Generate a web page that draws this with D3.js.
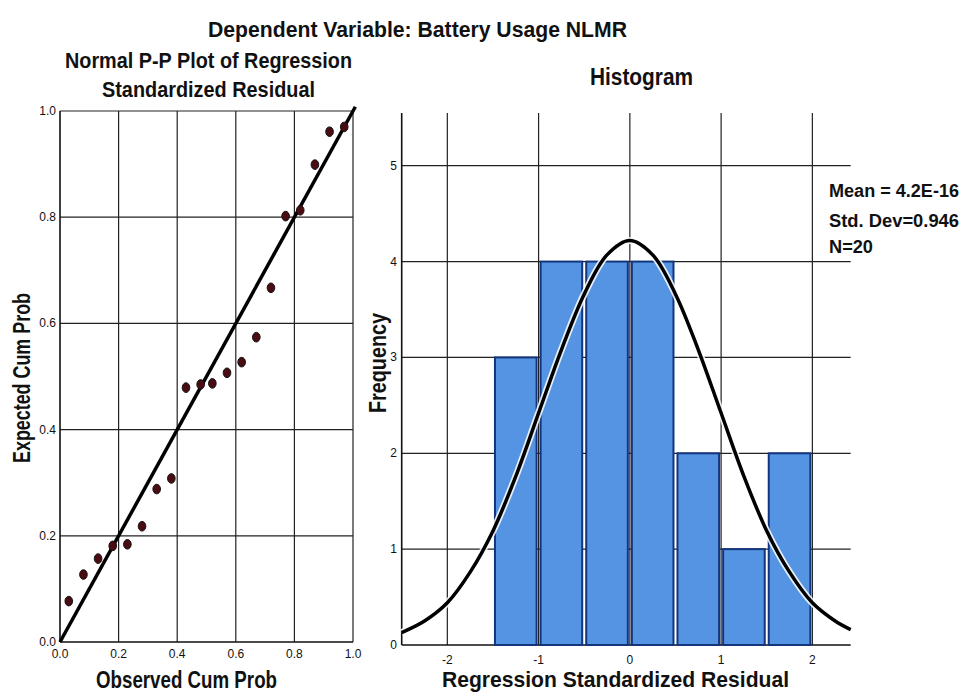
<!DOCTYPE html>
<html>
<head>
<meta charset="utf-8">
<script src="https://cdn.jsdelivr.net/npm/d3@7"></script>
<style>
  body { margin: 0; background: #fff; }
  text { font-family: "Liberation Sans", Arial, sans-serif; fill: #111; }
  .tick-lab { font-family: "Liberation Sans Narrow", "Arial Narrow", "Liberation Sans", Arial, sans-serif; }
</style>
</head>
<body>
<div id="chart"></div>
<script>
// P-P plot data
var ppObserved = [0.03, 0.08, 0.13, 0.18, 0.23, 0.28, 0.33, 0.38, 0.43, 0.48,
                  0.52, 0.57, 0.62, 0.67, 0.72, 0.77, 0.82, 0.87, 0.92, 0.97];
var ppExpected = [0.077, 0.127, 0.157, 0.181, 0.184, 0.218, 0.288, 0.308, 0.479, 0.485,
                  0.487, 0.507, 0.527, 0.574, 0.667, 0.802, 0.813, 0.899, 0.961, 0.970];
var ppTicks = [0, 0.2, 0.4, 0.6, 0.8, 1.0];

// histogram data
var binStart = [-1.5, -1.0, -0.5, 0.0, 0.5, 1.0, 1.5];
var binEnd   = [-1.0, -0.5, 0.0, 0.5, 1.0, 1.5, 2.0];
var binCount = [3, 4, 4, 4, 2, 1, 2];
var histXTicks = [-2, -1, 0, 1, 2];
var histYTicks = [0, 1, 2, 3, 4, 5];

// normal curve
var curveX = [-2.5, -2.25, -2, -1.75, -1.5, -1.25, -1, -0.75, -0.5, -0.25, 0,
              0.25, 0.5, 0.75, 1, 1.25, 1.5, 1.75, 2, 2.25, 2.42];
var curveY = [0.13, 0.25, 0.44, 0.76, 1.19, 1.76, 2.42, 3.08, 3.66, 4.07, 4.22,
              4.07, 3.66, 3.08, 2.42, 1.76, 1.19, 0.76, 0.44, 0.25, 0.16];

var legendLines = ["Mean = 4.2E-16", "Std. Dev=0.946", "N=20"];

var w = 964, h = 693;
var svg = d3.select("#chart").append("svg")
    .attr("width", w)
    .attr("height", h);

// ---------- P-P plot ----------
var px = d3.scaleLinear().domain([0, 1]).range([60, 353]);
var py = d3.scaleLinear().domain([0, 1]).range([642, 111]);

var pp = svg.append("g");

pp.selectAll("line.vgrid")
   .data(ppTicks.slice(1))
   .enter()
   .append("line")
   .attr("x1", function(d) { return px(d); })
   .attr("x2", function(d) { return px(d); })
   .attr("y1", py(1))
   .attr("y2", py(0))
   .attr("stroke", "#222")
   .attr("stroke-width", 1.2);

pp.selectAll("line.hgrid")
   .data(ppTicks.slice(1))
   .enter()
   .append("line")
   .attr("x1", px(0))
   .attr("x2", px(1))
   .attr("y1", function(d) { return py(d); })
   .attr("y2", function(d) { return py(d); })
   .attr("stroke", "#222")
   .attr("stroke-width", 1.2);

// axis lines
pp.append("line")
   .attr("x1", px(0)).attr("x2", px(0))
   .attr("y1", py(1)).attr("y2", py(0))
   .attr("stroke", "#111").attr("stroke-width", 1.6);
pp.append("line")
   .attr("x1", px(0)).attr("x2", px(1))
   .attr("y1", py(0)).attr("y2", py(0))
   .attr("stroke", "#111").attr("stroke-width", 1.6);

pp.selectAll("text.ylab")
   .data(ppTicks)
   .enter()
   .append("text")
   .attr("class", "tick-lab")
   .text(function(d) { return d.toFixed(1); })
   .attr("x", 56)
   .attr("y", function(d) { return py(d) + 4; })
   .attr("text-anchor", "end")
   .attr("font-size", "12px");

pp.selectAll("text.xlab")
   .data(ppTicks)
   .enter()
   .append("text")
   .attr("class", "tick-lab")
   .text(function(d) { return d.toFixed(1); })
   .attr("x", function(d) { return px(d); })
   .attr("y", 658)
   .attr("text-anchor", "middle")
   .attr("font-size", "12px");

// diagonal reference line
pp.append("line")
   .attr("x1", px(0)).attr("y1", py(0))
   .attr("x2", px(1.008)).attr("y2", py(1.008))
   .attr("stroke", "#000")
   .attr("stroke-width", 3.5);

pp.selectAll("ellipse")
   .data(ppObserved)
   .enter()
   .append("ellipse")
   .attr("cx", function(d) { return px(d); })
   .attr("cy", function(d, i) { return py(ppExpected[i]); })
   .attr("rx", 3.8)
   .attr("ry", 4.8)
   .attr("fill", "#4a0c12")
   .attr("stroke", "#111")
   .attr("stroke-width", 1);

// ---------- Histogram ----------
var hx = d3.scaleLinear().domain([-2.5, 2.42]).range([401.7, 850.7]);
var hy = d3.scaleLinear().domain([0, 5.55]).range([645, 113]);

var hg = svg.append("g");

hg.selectAll("line.vgrid")
   .data(histXTicks)
   .enter()
   .append("line")
   .attr("x1", function(d) { return hx(d); })
   .attr("x2", function(d) { return hx(d); })
   .attr("y1", hy(5.55))
   .attr("y2", hy(0))
   .attr("stroke", "#222")
   .attr("stroke-width", 1.2);

hg.selectAll("line.hgrid")
   .data(histYTicks.slice(1))
   .enter()
   .append("line")
   .attr("x1", hx(-2.5))
   .attr("x2", hx(2.42))
   .attr("y1", function(d) { return hy(d); })
   .attr("y2", function(d) { return hy(d); })
   .attr("stroke", "#222")
   .attr("stroke-width", 1.2);

hg.append("line")
   .attr("x1", hx(-2.5)).attr("x2", hx(-2.5))
   .attr("y1", hy(5.55)).attr("y2", hy(0))
   .attr("stroke", "#111").attr("stroke-width", 1.6);
hg.append("line")
   .attr("x1", hx(-2.5)).attr("x2", hx(2.42))
   .attr("y1", hy(0)).attr("y2", hy(0))
   .attr("stroke", "#111").attr("stroke-width", 1.6);

// bars
hg.selectAll("rect")
   .data(binCount)
   .enter()
   .append("rect")
   .attr("x", function(d, i) { return hx(binStart[i]) + 2; })
   .attr("y", function(d) { return hy(d); })
   .attr("width", function(d, i) { return hx(binEnd[i]) - hx(binStart[i]) - 4; })
   .attr("height", function(d) { return hy(0) - hy(d); })
   .attr("fill", "#5594e3")
   .attr("stroke", "#12357d")
   .attr("stroke-width", 2);

hg.selectAll("text.ylab")
   .data(histYTicks)
   .enter()
   .append("text")
   .attr("class", "tick-lab")
   .text(function(d) { return d; })
   .attr("x", 397)
   .attr("y", function(d) { return hy(d) + 4; })
   .attr("text-anchor", "end")
   .attr("font-size", "12px");

hg.selectAll("text.xlab")
   .data(histXTicks)
   .enter()
   .append("text")
   .attr("class", "tick-lab")
   .text(function(d) { return d; })
   .attr("x", function(d) { return hx(d); })
   .attr("y", 664)
   .attr("text-anchor", "middle")
   .attr("font-size", "12px");

// normal curve, white halo under black line
var line = d3.line()
    .x(function(d, i) { return hx(d); })
    .y(function(d, i) { return hy(curveY[i]); })
    .curve(d3.curveCatmullRom);

hg.append("path")
   .attr("d", line(curveX))
   .attr("fill", "none")
   .attr("stroke", "#fff")
   .attr("stroke-opacity", 0.85)
   .attr("stroke-width", 7);
hg.append("path")
   .attr("d", line(curveX))
   .attr("fill", "none")
   .attr("stroke", "#000")
   .attr("stroke-width", 3.5);

// legend
svg.selectAll("text.legend")
   .data(legendLines)
   .enter()
   .append("text")
   .text(function(d) { return d; })
   .attr("x", 829)
   .attr("y", function(d, i) { return [196.7, 226.7, 253.3][i]; })
   .attr("textLength", function(d, i) { return [130, 130, 44][i]; })
   .attr("lengthAdjust", "spacingAndGlyphs")
   .attr("font-size", "18px")
   .attr("font-weight", "bold");

// titles and axis labels
function label(txt, x, y, len, size, anchor, rot) {
    var t = svg.append("text")
        .text(txt)
        .attr("x", x)
        .attr("y", y)
        .attr("textLength", len)
        .attr("lengthAdjust", "spacingAndGlyphs")
        .attr("font-size", size + "px")
        .attr("font-weight", "bold")
        .attr("text-anchor", anchor);
    if (rot) t.attr("transform", "rotate(-90," + x + "," + y + ")");
}
label("Dependent Variable: Battery Usage NLMR", 208, 37, 419, 22, "start");
label("Normal P-P Plot of Regression", 65, 68, 287, 22, "start");
label("Standardized Residual", 102, 97, 213, 22, "start");
label("Histogram", 590, 85, 103, 23, "start");
label("Observed Cum Prob", 96, 688, 181, 24, "start");
label("Regression Standardized Residual", 442, 687, 347, 22, "start");
label("Expected Cum Prob", 30, 378, 170, 24, "middle", true);
label("Frequency", 386, 363, 100, 24, "middle", true);
</script>
</body>
</html>
